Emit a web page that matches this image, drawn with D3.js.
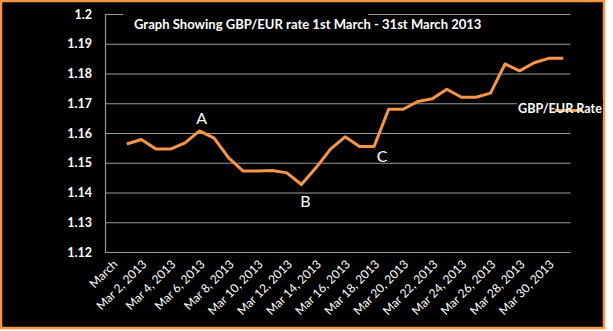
<!DOCTYPE html>
<html><head><meta charset="utf-8">
<script src="https://cdn.jsdelivr.net/npm/d3@7"></script>
<style>
html,body{margin:0;padding:0;background:#fff;}
svg{display:block;}
</style>
</head><body>
<script>
// ---- data ----
const categories = ["March","Mar 1, 2013","Mar 2, 2013","Mar 3, 2013","Mar 4, 2013","Mar 5, 2013","Mar 6, 2013","Mar 7, 2013","Mar 8, 2013","Mar 9, 2013","Mar 10, 2013","Mar 11, 2013","Mar 12, 2013","Mar 13, 2013","Mar 14, 2013","Mar 15, 2013","Mar 16, 2013","Mar 17, 2013","Mar 18, 2013","Mar 19, 2013","Mar 20, 2013","Mar 21, 2013","Mar 22, 2013","Mar 23, 2013","Mar 24, 2013","Mar 25, 2013","Mar 26, 2013","Mar 27, 2013","Mar 28, 2013","Mar 29, 2013","Mar 30, 2013","Mar 31, 2013"];
const rateValues = [null,1.1563,1.1578,1.1546,1.1546,1.1567,1.1607,1.1583,1.1516,1.1472,1.1472,1.1474,1.1466,1.1427,1.1483,1.1546,1.1587,1.1555,1.1555,1.1680,1.1680,1.1706,1.1715,1.1747,1.1720,1.1720,1.1734,1.1832,1.1809,1.1836,1.1851,1.1851];
const xTickLabels = ["March","Mar 2, 2013","Mar 4, 2013","Mar 6, 2013","Mar 8, 2013","Mar 10, 2013","Mar 12, 2013","Mar 14, 2013","Mar 16, 2013","Mar 18, 2013","Mar 20, 2013","Mar 22, 2013","Mar 24, 2013","Mar 26, 2013","Mar 28, 2013","Mar 30, 2013"];
const yTicks = [1.12,1.13,1.14,1.15,1.16,1.17,1.18,1.19,1.2];
const annotations = [{label:"A", cat:"Mar 6, 2013", value:1.1607},{label:"B", cat:"Mar 13, 2013", value:1.1427},{label:"C", cat:"Mar 18, 2013", value:1.1555}];
const annotationOffsets = [[2,-11],[4,18],[8,12]];
const titleText = "Graph Showing GBP/EUR rate 1st March - 31st March 2013";
const seriesName = "GBP/EUR Rate";

const W = 613, H = 331;
const FONT = "Lato, 'Open Sans', sans-serif";
const svg = d3.select("body").append("svg").attr("width", W).attr("height", H);

// background + border
svg.append("rect").attr("x",1).attr("y",1).attr("width",603).attr("height",327)
  .attr("fill","#000").attr("stroke","#F79646").attr("stroke-width",2.5);

const plot = {left:105, right:570.5, top:14, bottom:252};
const x = d3.scaleBand().domain(categories).range([plot.left, plot.right]).paddingInner(0).paddingOuter(0);
const y = d3.scaleLinear().domain([1.12,1.2]).range([plot.bottom, plot.top]);

// gridlines
svg.append("g").selectAll("line").data(yTicks).join("line")
  .attr("x1", plot.left).attr("x2", plot.right)
  .attr("y1", d=>y(d)+0.5).attr("y2", d=>y(d)+0.5)
  .attr("stroke","#9a9a9a").attr("stroke-width",1.2);
// left axis line
svg.append("line").attr("x1",plot.left+0.5).attr("x2",plot.left+0.5)
  .attr("y1",plot.top).attr("y2",plot.bottom+0.5).attr("stroke","#9a9a9a").attr("stroke-width",1.2);

// y axis labels
const yAxis = d3.axisLeft(y).tickValues(yTicks).tickSize(0).tickPadding(13)
  .tickFormat(d=>String(+d.toFixed(2)));
const gy = svg.append("g").attr("transform",`translate(${plot.left},0)`).call(yAxis);
gy.select(".domain").remove();
gy.selectAll("text").attr("fill","#fff").attr("font-family",FONT).attr("font-size",12.5).attr("font-weight","bold");

// x axis labels
const xAxis = d3.axisBottom(x).tickValues(categories.filter(c=>xTickLabels.includes(c)))
  .tickSize(0).tickFormat(d=>d);
const gx = svg.append("g").attr("transform",`translate(0,${plot.bottom})`).call(xAxis);
gx.select(".domain").remove();
gx.selectAll("text").attr("fill","#fff").attr("font-family",FONT).attr("font-size",12)
  .attr("text-anchor","end").attr("dy",null).attr("y",0)
  .attr("transform","translate(6,13) rotate(-45)");

// title box + text
svg.append("rect").attr("x",123).attr("y",8).attr("width",245).attr("height",12).attr("fill","#000");
const title = svg.append("text").attr("x",134).attr("y",29).attr("fill","#fff")
  .attr("font-family",FONT).attr("font-weight","bold").attr("font-size",12.5).text(titleText);
(function fit(){const w=title.node().getComputedTextLength(); title.attr("font-size",12.5*348/w);})();

// line
const line = d3.line().defined(d=>d.v!=null).x(d=>x(d.c)+x.bandwidth()/2).y(d=>y(d.v));
const pts = categories.map((c,i)=>({c, v:rateValues[i]}));
svg.append("path").datum(pts).attr("d",line).attr("fill","none")
  .attr("stroke","#F79646").attr("stroke-width",3).attr("stroke-linejoin","round");

// annotations
svg.append("g").selectAll("text").data(annotations).join("text")
  .attr("x",(d,i)=>x(d.cat)+x.bandwidth()/2+annotationOffsets[i][0])
  .attr("y",(d,i)=>y(d.value)+annotationOffsets[i][1])
  .attr("text-anchor","middle").attr("fill","#fff").attr("font-family",FONT)
  .attr("font-size",16).attr("dominant-baseline","middle").text(d=>d.label);

// legend
svg.append("rect").attr("x",517).attr("y",100).attr("width",86).attr("height",16).attr("fill","#000");
svg.append("line").attr("x1",555).attr("x2",582).attr("y1",110.5).attr("y2",110.5)
  .attr("stroke","#F79646").attr("stroke-width",3);
const leg = svg.append("text").attr("x",518).attr("y",113).attr("fill","#fff")
  .attr("font-family",FONT).attr("font-weight","bold").attr("font-size",12.5).text(seriesName);
(function fit(){const w=leg.node().getComputedTextLength(); leg.attr("font-size",12.5*84/w);})();
</script>
</body></html>
